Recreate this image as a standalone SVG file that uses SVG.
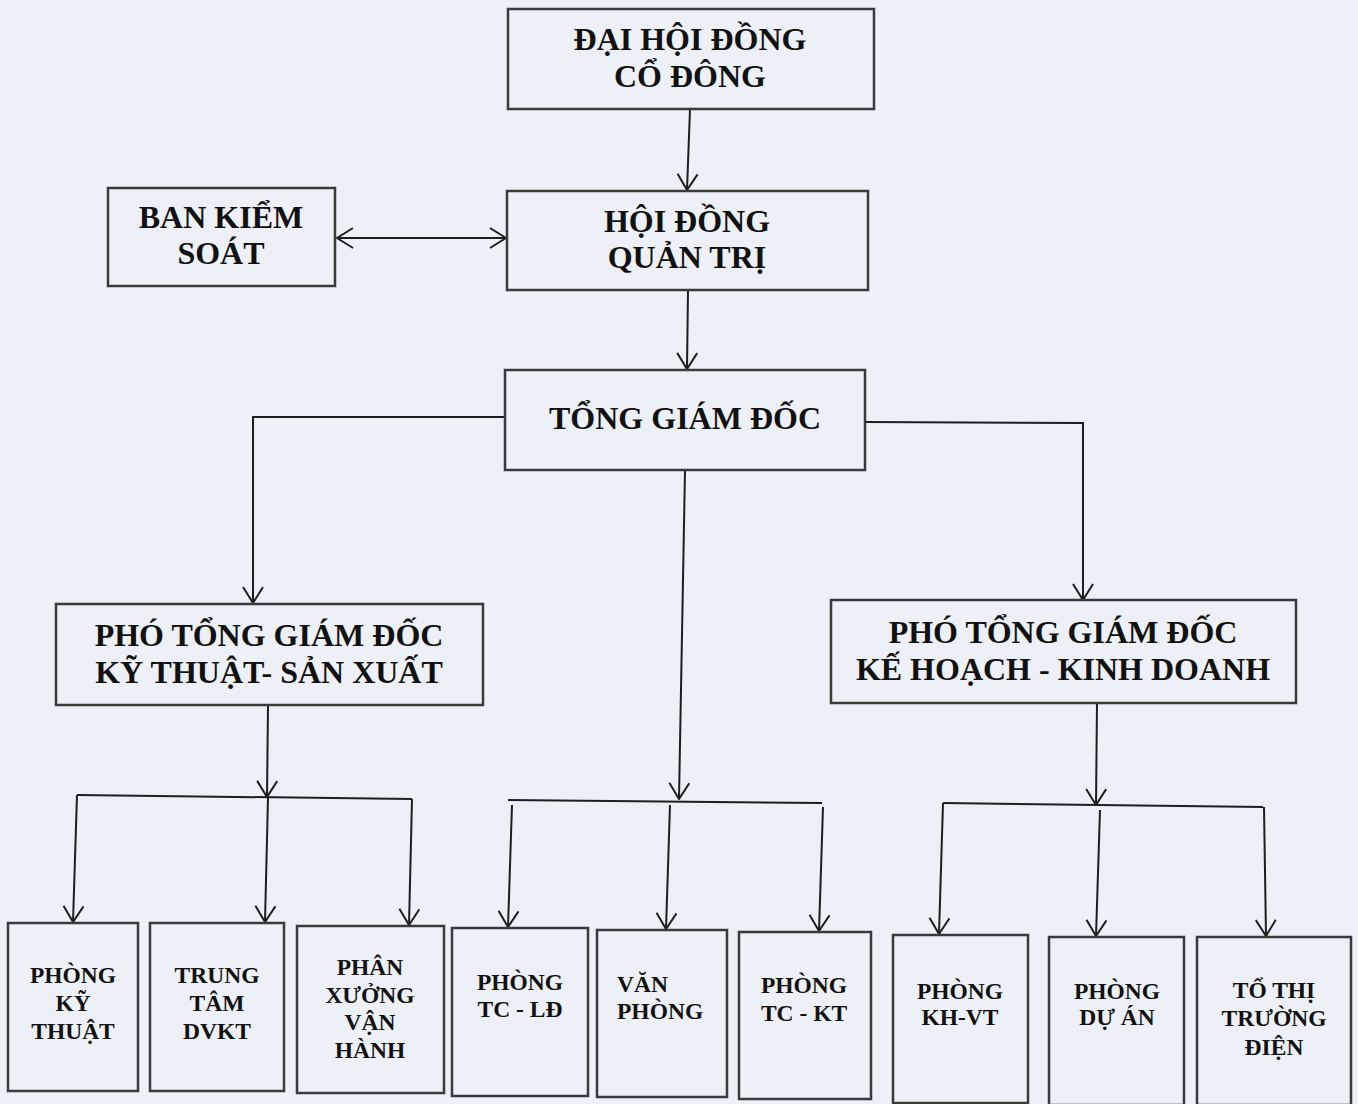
<svg xmlns="http://www.w3.org/2000/svg" width="1358" height="1104" viewBox="0 0 1358 1104">
<style>
.bg{fill:#edf0f6}
.box{fill:none;stroke:#3a3a3a;stroke-width:2.5}
.t{font-family:"Liberation Serif","Times New Roman",serif;font-weight:bold;fill:#111;text-anchor:middle}
.big{font-size:32px}
.sm{font-size:23.5px}
.c{fill:none;stroke:#1e1e1e;stroke-width:2}
</style>
<defs>
<marker id="ar" viewBox="0 0 18 22" refX="17" refY="11" markerWidth="18" markerHeight="22" markerUnits="userSpaceOnUse" orient="auto-start-reverse">
<path d="M1,1 L17,11 L1,21" fill="none" stroke="#1e1e1e" stroke-width="2"/>
</marker>
</defs>
<rect class="bg" x="0" y="0" width="1358" height="1104"/>

<g id="connectors">
<line class="c" x1="690" y1="109" x2="687" y2="190" marker-end="url(#ar)"/>
<line class="c" x1="337" y1="238" x2="506" y2="238" marker-start="url(#ar)" marker-end="url(#ar)"/>
<line class="c" x1="688" y1="290" x2="687" y2="369" marker-end="url(#ar)"/>
<polyline class="c" points="505,417 253,417 253,603" marker-end="url(#ar)"/>
<polyline class="c" points="865,422 1083,423 1083,600" marker-end="url(#ar)"/>
<line class="c" x1="685" y1="470" x2="679" y2="799" marker-end="url(#ar)"/>
<line class="c" x1="268" y1="705" x2="267" y2="797" marker-end="url(#ar)"/>
<line class="c" x1="1097" y1="703" x2="1096" y2="805" marker-end="url(#ar)"/>
<line class="c" x1="77" y1="795" x2="412" y2="799"/>
<line class="c" x1="77" y1="795" x2="73" y2="922" marker-end="url(#ar)"/>
<line class="c" x1="268" y1="798" x2="265" y2="922" marker-end="url(#ar)"/>
<line class="c" x1="412" y1="799" x2="409" y2="925" marker-end="url(#ar)"/>
<line class="c" x1="508" y1="800" x2="822" y2="803"/>
<line class="c" x1="512" y1="805" x2="508" y2="927" marker-end="url(#ar)"/>
<line class="c" x1="670" y1="805" x2="666" y2="929" marker-end="url(#ar)"/>
<line class="c" x1="823" y1="807" x2="819" y2="931" marker-end="url(#ar)"/>
<line class="c" x1="943" y1="803" x2="1263" y2="807"/>
<line class="c" x1="943" y1="803" x2="939" y2="934" marker-end="url(#ar)"/>
<line class="c" x1="1100" y1="810" x2="1096" y2="936" marker-end="url(#ar)"/>
<line class="c" x1="1264" y1="807" x2="1266" y2="936" marker-end="url(#ar)"/>
</g>

<g id="dhdcd">
<rect class="box" x="508" y="9" width="366" height="100"/>
<text class="t big" x="690" y="50">ĐẠI HỘI ĐỒNG</text>
<text class="t big" x="690" y="87">CỔ ĐÔNG</text>
</g>
<g id="bks">
<rect class="box" x="108" y="188" width="227" height="98"/>
<text class="t big" x="221" y="228">BAN KIỂM</text>
<text class="t big" x="221" y="264">SOÁT</text>
</g>
<g id="hdqt">
<rect class="box" x="507" y="191" width="361" height="99"/>
<text class="t big" x="687" y="232">HỘI ĐỒNG</text>
<text class="t big" x="687" y="268">QUẢN TRỊ</text>
</g>
<g id="tgd">
<rect class="box" x="505" y="370" width="360" height="100"/>
<text class="t big" x="685" y="429">TỔNG GIÁM ĐỐC</text>
</g>
<g id="ptgd-ktsx">
<rect class="box" x="56" y="604" width="427" height="101"/>
<text class="t big" x="269" y="646">PHÓ TỔNG GIÁM ĐỐC</text>
<text class="t big" x="269" y="683">KỸ THUẬT- SẢN XUẤT</text>
</g>
<g id="ptgd-khkd">
<rect class="box" x="831" y="600" width="465" height="103"/>
<text class="t big" x="1063" y="643">PHÓ TỔNG GIÁM ĐỐC</text>
<text class="t big" x="1063" y="680">KẾ HOẠCH - KINH DOANH</text>
</g>

<g id="phong-ky-thuat">
<rect class="box" x="8" y="923" width="130" height="168"/>
<text class="t sm" x="73" y="983">PHÒNG</text>
<text class="t sm" x="73" y="1011">KỸ</text>
<text class="t sm" x="73" y="1039">THUẬT</text>
</g>
<g id="trung-tam-dvkt">
<rect class="box" x="150" y="923" width="134" height="168"/>
<text class="t sm" x="217" y="983">TRUNG</text>
<text class="t sm" x="217" y="1011">TÂM</text>
<text class="t sm" x="217" y="1039">DVKT</text>
</g>
<g id="phan-xuong">
<rect class="box" x="297" y="926" width="147" height="167"/>
<text class="t sm" x="370" y="975">PHÂN</text>
<text class="t sm" x="370" y="1003">XƯỞNG</text>
<text class="t sm" x="370" y="1030">VẬN</text>
<text class="t sm" x="370" y="1058">HÀNH</text>
</g>
<g id="phong-tc-ld">
<rect class="box" x="452" y="928" width="136" height="168"/>
<text class="t sm" x="520" y="990">PHÒNG</text>
<text class="t sm" x="520" y="1017">TC - LĐ</text>
</g>
<g id="van-phong">
<rect class="box" x="597" y="930" width="130" height="167"/>
<text class="t sm" x="617" y="992" style="text-anchor:start">VĂN</text>
<text class="t sm" x="617" y="1019" style="text-anchor:start">PHÒNG</text>
</g>
<g id="phong-tc-kt">
<rect class="box" x="739" y="932" width="132" height="167"/>
<text class="t sm" x="804" y="993">PHÒNG</text>
<text class="t sm" x="804" y="1021">TC - KT</text>
</g>
<g id="phong-kh-vt">
<rect class="box" x="893" y="935" width="135" height="168"/>
<text class="t sm" x="960" y="999">PHÒNG</text>
<text class="t sm" x="960" y="1025">KH-VT</text>
</g>
<g id="phong-du-an">
<rect class="box" x="1049" y="937" width="135" height="168"/>
<text class="t sm" x="1117" y="999">PHÒNG</text>
<text class="t sm" x="1117" y="1025">DỰ ÁN</text>
</g>
<g id="to-thi-truong">
<rect class="box" x="1197" y="937" width="154" height="168"/>
<text class="t sm" x="1274" y="998">TỔ THỊ</text>
<text class="t sm" x="1274" y="1026">TRƯỜNG</text>
<text class="t sm" x="1274" y="1055">ĐIỆN</text>
</g>
</svg>
